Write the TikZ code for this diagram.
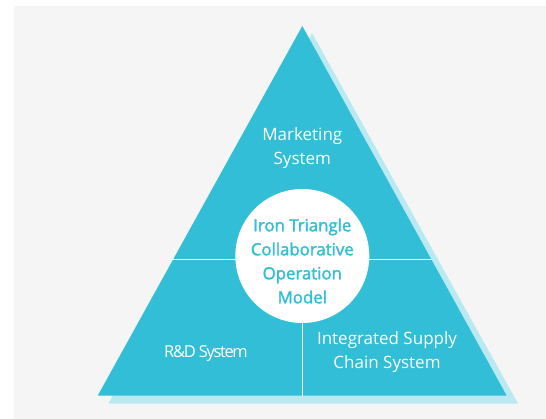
\documentclass[tikz,border=0pt]{standalone}
\usepackage{fontspec}
\setmainfont{Open Sans}
\newfontfamily\condfont[LetterSpace=-8]{Open Sans}
\newfontfamily\medfont[FakeBold=1.8]{Open Sans}
\definecolor{tri}{HTML}{32BED6}
\definecolor{shad}{HTML}{BBE9F1}
\definecolor{bg}{HTML}{F5F5F5}
\tikzset{
  lbl/.style={text=white, align=center, font=\fontsize{17}{24}\selectfont, inner sep=0pt},
  corelbl/.style={text=tri, align=center, font=\medfont\fontsize{16.8}{24}\selectfont, inner sep=0pt},
  divider/.style={draw=white, line width=1pt}
}
\begin{document}
\begin{tikzpicture}[x=1pt,y=-1pt]
\useasboundingbox (0,0) rectangle (546,419);
\fill[white] (0,0) rectangle (546,419);
\fill[bg] (14,6) rectangle (546,419);
% shadow
\fill[shad] (312,33) -- (518,403.5) -- (108.5,403.5) -- cycle;
% main triangle
\coordinate (apex) at (302.3,26);
\coordinate (br) at (506.7,395.7);
\coordinate (bl) at (97.7,395.7);
\fill[tri] (apex) -- (br) -- (bl) -- cycle;
% dividers
\coordinate (hl) at (172.8,260);
\coordinate (hr) at (431.8,260);
\coordinate (bm) at (302.3,395.7);
\draw[divider] (hl) -- (hr);
\node[circle, fill=white, minimum size=134pt, inner sep=0pt] (core) at (302.3,256) {};
\draw[divider] (core.south) -- (bm);
\node[corelbl] (coretext) at (302.3,261) {Iron Triangle\\Collaborative\\Operation\\Model};
\node[lbl] (mkt) at (302.3,148.5) {Marketing\\System};
\node[lbl, font=\condfont\fontsize{16.5}{24}\selectfont] (rd) at (206,354) {R\&D System};
\node[lbl] (sc) at (387,352) {Integrated Supply\\Chain System};
\end{tikzpicture}
\end{document}
